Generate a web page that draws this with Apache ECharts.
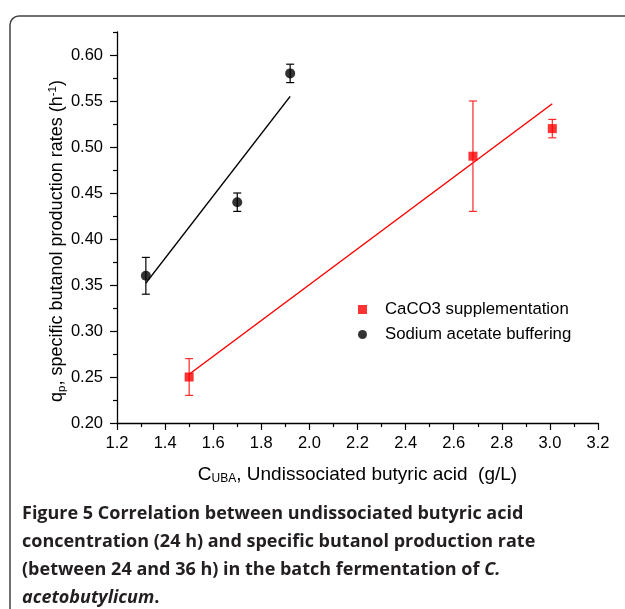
<!DOCTYPE html>
<html>
<head>
<meta charset="utf-8">
<script src="https://cdn.jsdelivr.net/npm/echarts@6/dist/echarts.min.js"></script>
<style>
  html, body { margin: 0; padding: 0; background: #fff; }
  #chart { width: 625px; height: 609px; }
</style>
</head>
<body>
<div id="chart"></div>
<script>
// values
const caco3X = [1.50, 2.68, 3.01];
const caco3Y = [0.25, 0.49, 0.52];
const caco3Err = [0.02, 0.06, 0.01];
const acetateX = [1.32, 1.70, 1.92];
const acetateY = [0.36, 0.44, 0.58];
const acetateErr = [0.02, 0.01, 0.01];

// fitted lines (end points)
const caco3FitX = [1.50, 3.01];
const caco3FitY = [0.253, 0.547];
const acetateFitX = [1.32, 1.92];
const acetateFitY = [0.352, 0.555];

// y ticks
const yTicks = [0.20, 0.25, 0.30, 0.35, 0.40, 0.45, 0.50, 0.55, 0.60];
const yMinorTicks = [0.225, 0.275, 0.325, 0.375, 0.425, 0.475, 0.525, 0.575, 0.625];

const FONT = '"Liberation Sans", Arial, sans-serif';
const CAP_FONT = '"Open Sans", "Noto Sans", sans-serif';

const zip = (xs, ys) => xs.map((x, i) => [x, ys[i]]);
const errData = (xs, ys, es) => xs.map((x, i) => [x, ys[i] - es[i], ys[i] + es[i]]);

function errorBars(color) {
  return function (params, api) {
    const x = api.value(0);
    const lo = api.coord([x, api.value(1)]);
    const hi = api.coord([x, api.value(2)]);
    const w = 4;
    const style = { stroke: color, lineWidth: 1.2 };
    return {
      type: 'group',
      children: [
        { type: 'line', shape: { x1: lo[0], y1: lo[1], x2: hi[0], y2: hi[1] }, style },
        { type: 'line', shape: { x1: hi[0] - w, y1: hi[1], x2: hi[0] + w, y2: hi[1] }, style },
        { type: 'line', shape: { x1: lo[0] - w, y1: lo[1], x2: lo[0] + w, y2: lo[1] }, style }
      ]
    };
  };
}

const chart = echarts.init(document.getElementById('chart'));

const axisLine = { show: true, onZero: false, lineStyle: { color: '#000', width: 1.3 } };

chart.setOption({
  animation: false,
  backgroundColor: '#fff',
  grid: { left: 117, right: 27, top: 32, bottom: 186 },
  legend: {
    orient: 'vertical',
    left: 353,
    top: 296,
    itemWidth: 9,
    itemHeight: 9,
    itemGap: 8,
    textStyle: { fontFamily: FONT, fontSize: 16.8, color: '#000', padding: [0, 0, 0, 13] },
    data: [
      { name: 'CaCO3 supplementation', icon: 'rect' },
      { name: 'Sodium acetate buffering', icon: 'circle' }
    ]
  },
  xAxis: {
    type: 'value',
    min: 1.2,
    max: 3.2,
    interval: 0.2,
    axisLine,
    axisTick: { show: true, length: 7, lineStyle: { color: '#000', width: 1.2 } },
    minorTick: { show: true, splitNumber: 2, length: 4, lineStyle: { color: '#000', width: 1.2 } },
    axisLabel: { margin: 12, fontFamily: FONT, fontSize: 16.5, color: '#000', formatter: v => v.toFixed(1) },
    splitLine: { show: false },
    name: '{n|C}{sub|UBA}{n|, Undissociated butyric acid  (g/L)}',
    nameLocation: 'middle',
    nameGap: 41,
    nameTextStyle: {
      rich: {
        n: { fontFamily: FONT, fontSize: 19, color: '#000', lineHeight: 21, verticalAlign: 'middle' },
        sub: { fontFamily: FONT, fontSize: 12, color: '#000', lineHeight: 11, verticalAlign: 'bottom' }
      }
    }
  },
  yAxis: [
    {
      type: 'value',
      min: 0.2,
      max: 0.625,
      interval: 0.05,
      position: 'left',
      axisLine,
      axisTick: { show: true, length: 7, customValues: yTicks, lineStyle: { color: '#000', width: 1.2 } },
      axisLabel: { customValues: yTicks, margin: 14, fontFamily: FONT, fontSize: 16.5, color: '#000', formatter: v => v.toFixed(2) },
      splitLine: { show: false }
    },
    {
      type: 'value',
      min: 0.2,
      max: 0.625,
      position: 'left',
      axisLine: { show: false, onZero: false },
      axisTick: { show: true, length: 4, customValues: yMinorTicks, lineStyle: { color: '#000', width: 1.2 } },
      axisLabel: { show: false },
      splitLine: { show: false }
    }
  ],
  graphic: [
    {
      type: 'rect',
      silent: true,
      shape: { x: 10, y: 16, width: 700, height: 700, r: 9 },
      style: { fill: 'none', stroke: '#444', lineWidth: 1.5 }
    },
    {
      type: 'text',
      silent: true,
      x: 57,
      y: 241,
      rotation: Math.PI / 2,
      style: {
        text: '{n|q}{sub|p}{n|, specific butanol production rates (h}{sup|-1}{n|)}',
        align: 'center',
        verticalAlign: 'middle',
        rich: {
          n: { fontFamily: FONT, fontSize: 18, fill: '#000', lineHeight: 21, verticalAlign: 'middle' },
          sub: { fontFamily: FONT, fontSize: 11.5, fill: '#000', lineHeight: 11, verticalAlign: 'bottom' },
          sup: { fontFamily: FONT, fontSize: 11.5, fill: '#000', lineHeight: 11, verticalAlign: 'top' }
        }
      }
    },
    {
      type: 'text',
      silent: true,
      x: 22,
      y: 500,
      style: {
        text: '{n|Figure 5 Correlation between undissociated butyric acid}\n' +
              '{n|concentration (24 h) and specific butanol production rate}\n' +
              '{n|(between 24 and 36 h) in the batch fermentation of }{i|C.}\n' +
              '{i|acetobutylicum}{n|.}',
        verticalAlign: 'top',
        rich: {
          n: { fontFamily: CAP_FONT, fontSize: 18, fontWeight: 'bold', fill: '#231f20', lineHeight: 28 },
          i: { fontFamily: CAP_FONT, fontSize: 18, fontWeight: 'bold', fontStyle: 'italic', fill: '#231f20', lineHeight: 28 }
        }
      }
    }
  ],
  series: [
    {
      name: 'CaCO3 fit',
      type: 'line',
      data: zip(caco3FitX, caco3FitY),
      showSymbol: false,
      lineStyle: { color: '#ff0000', width: 1.5 },
      z: 1
    },
    {
      name: 'Acetate fit',
      type: 'line',
      data: zip(acetateFitX, acetateFitY),
      showSymbol: false,
      lineStyle: { color: '#000', width: 1.5 },
      z: 1
    },
    {
      name: 'CaCO3 error',
      type: 'custom',
      data: errData(caco3X, caco3Y, caco3Err),
      renderItem: errorBars('#ff2a2a'),
      z: 2
    },
    {
      name: 'Acetate error',
      type: 'custom',
      data: errData(acetateX, acetateY, acetateErr),
      renderItem: errorBars('#000'),
      z: 2
    },
    {
      name: 'CaCO3 supplementation',
      type: 'scatter',
      data: zip(caco3X, caco3Y),
      symbol: 'rect',
      symbolSize: 9,
      itemStyle: { color: '#ff0000' },
      z: 3
    },
    {
      name: 'Sodium acetate buffering',
      type: 'scatter',
      data: zip(acetateX, acetateY),
      symbol: 'circle',
      symbolSize: 10,
      itemStyle: { color: '#000' },
      z: 3
    }
  ]
});
</script>
</body>
</html>
